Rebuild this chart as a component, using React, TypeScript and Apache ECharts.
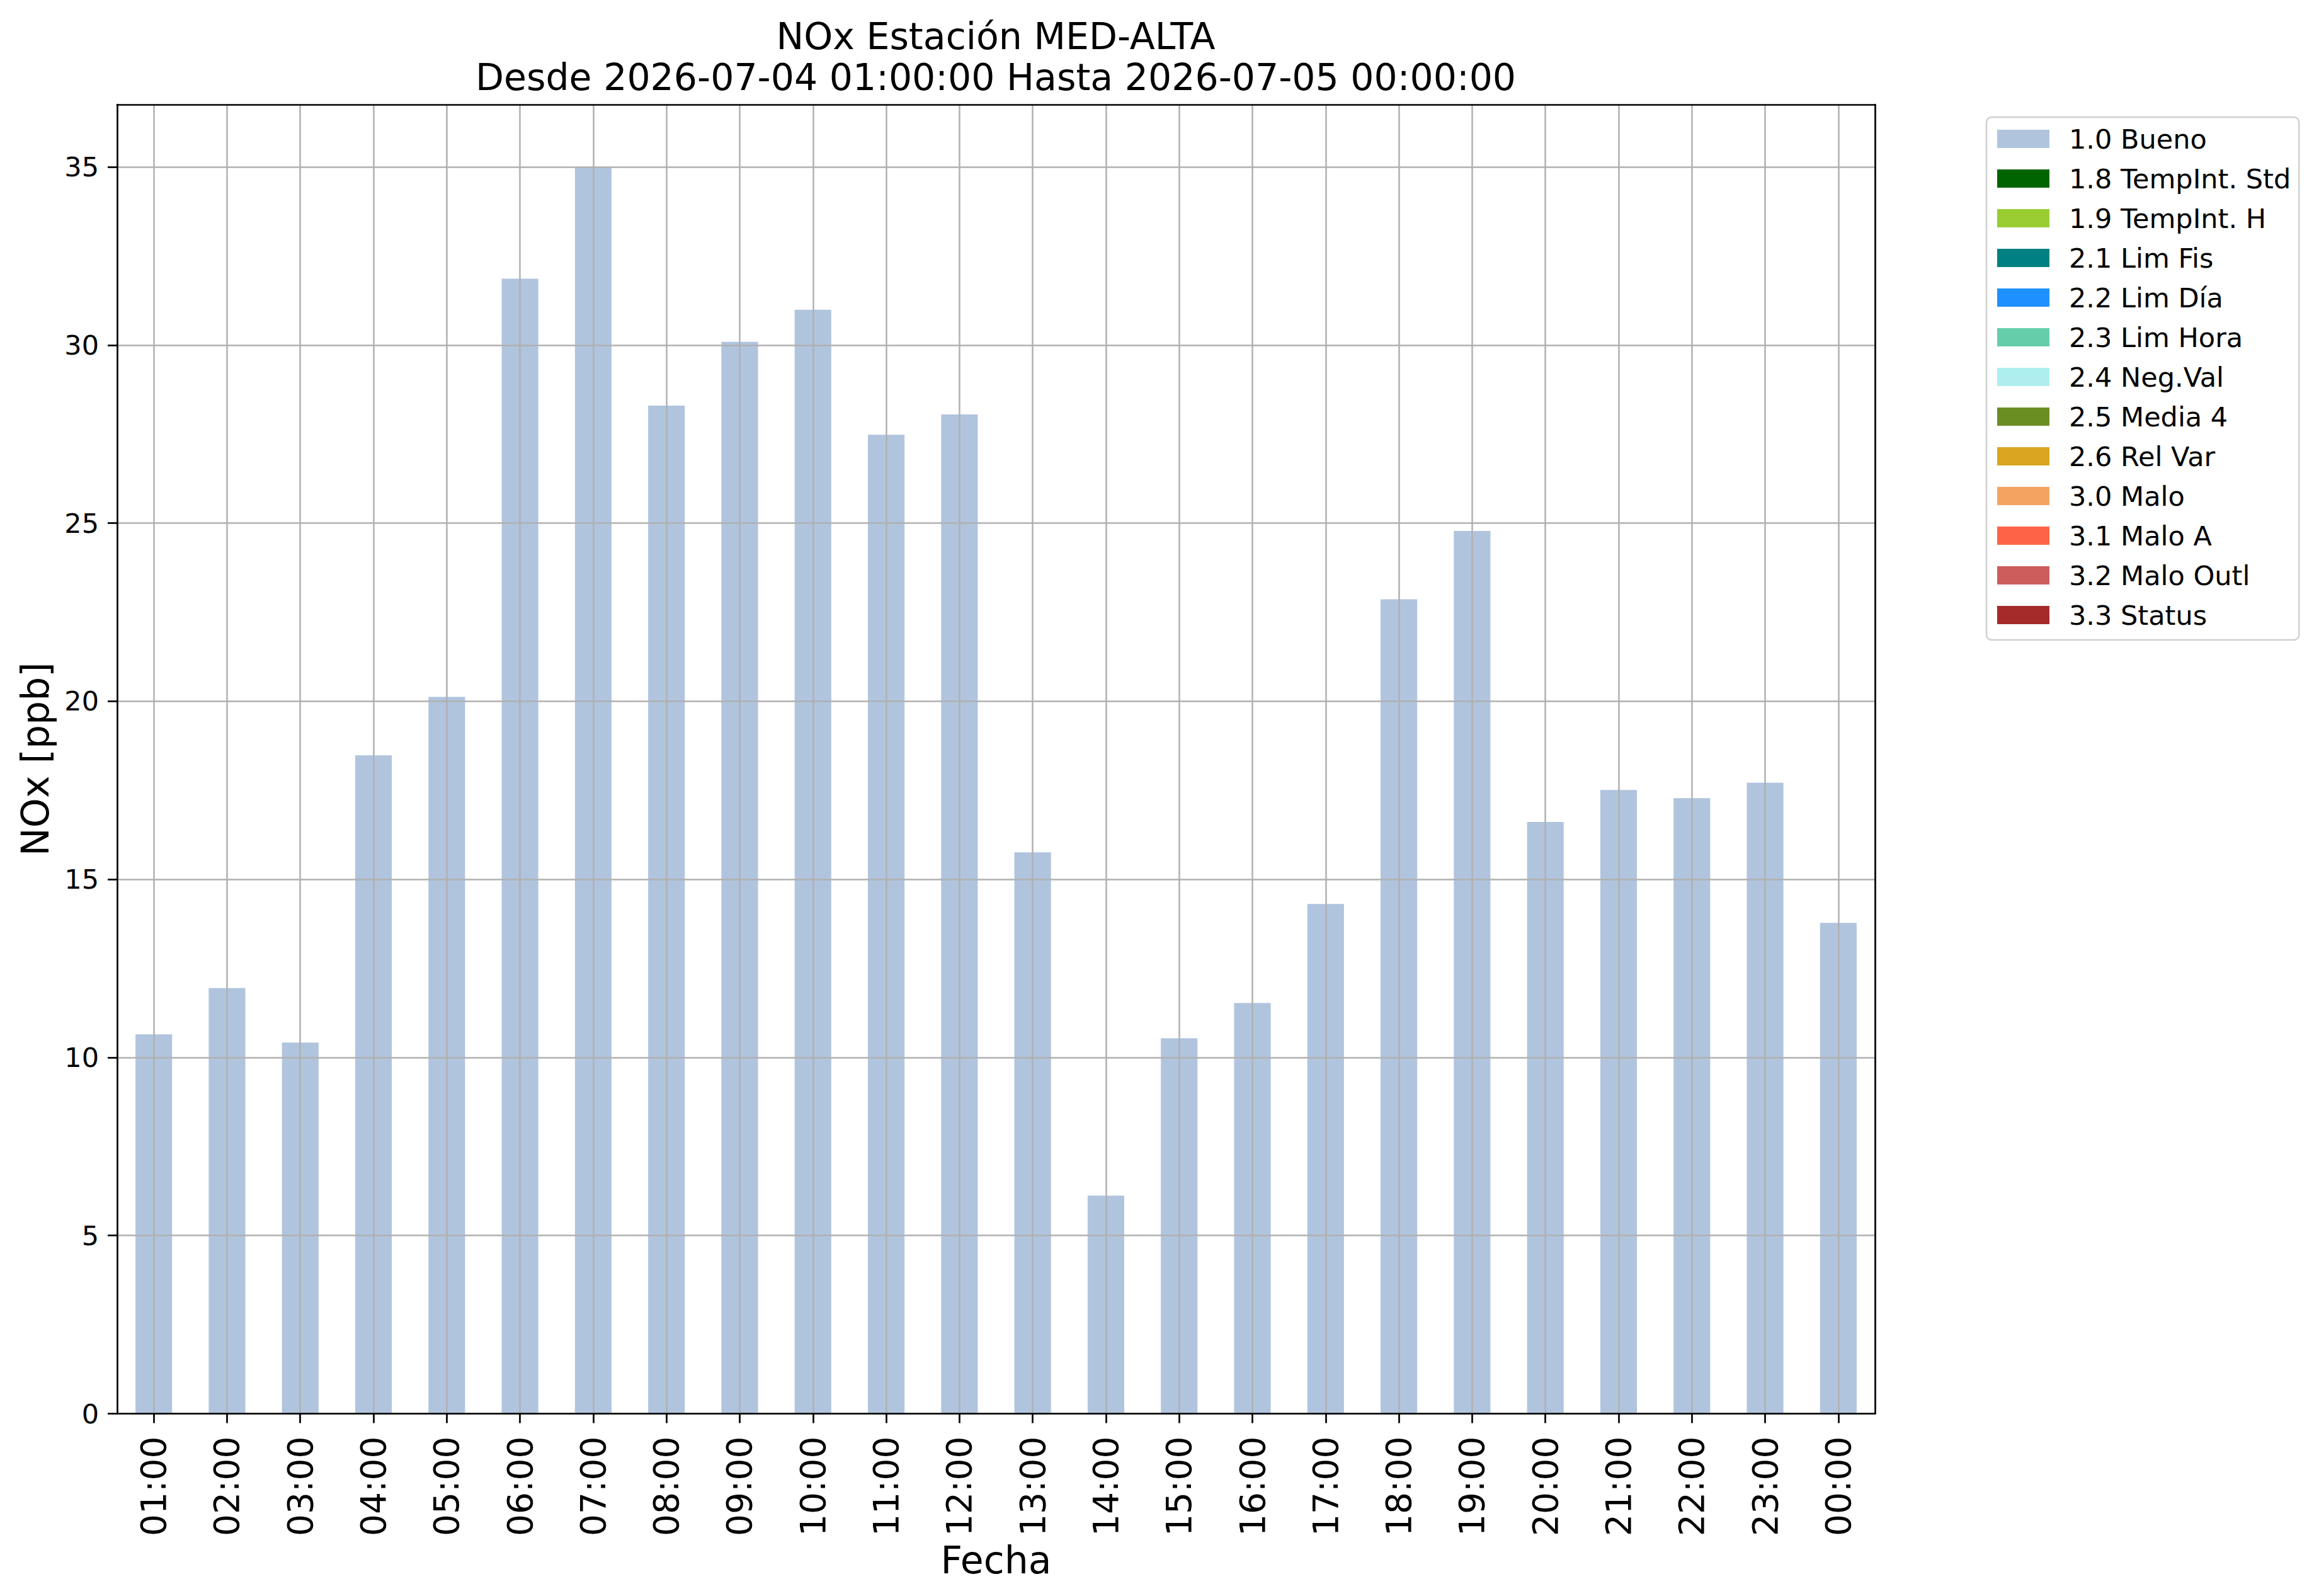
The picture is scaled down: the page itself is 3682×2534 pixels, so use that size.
import React, { useEffect, useRef } from "react";
import * as echarts from "echarts";

const categories = [
  "01:00", "02:00", "03:00", "04:00", "05:00", "06:00", "07:00", "08:00",
  "09:00", "10:00", "11:00", "12:00", "13:00", "14:00", "15:00", "16:00",
  "17:00", "18:00", "19:00", "20:00", "21:00", "22:00", "23:00", "00:00",
];

const buenoValues = [
  10.65, 11.95, 10.42, 18.48, 20.12, 31.86, 35.0, 28.3,
  30.09, 30.99, 27.48, 28.05, 15.76, 6.12, 10.54, 11.53,
  14.31, 22.86, 24.78, 16.61, 17.51, 17.28, 17.71, 13.78,
];

const legendNames = [
  "1.0 Bueno", "1.8 TempInt. Std", "1.9 TempInt. H", "2.1 Lim Fis", "2.2 Lim Día",
  "2.3 Lim Hora", "2.4 Neg.Val", "2.5 Media 4", "2.6 Rel Var", "3.0 Malo",
  "3.1 Malo A", "3.2 Malo Outl", "3.3 Status",
];

const legendColors = [
  "#b0c4de", "#006400", "#9acd32", "#008080", "#1e90ff",
  "#66cdaa", "#afeeee", "#6b8e23", "#daa520", "#f4a460",
  "#ff6347", "#cd5c5c", "#a52a2a",
];

const yTicks = [0, 5, 10, 15, 20, 25, 30, 35];

const FONT = "DejaVu Sans";

export default function App() {
  const ref = useRef<HTMLDivElement>(null);

  useEffect(() => {
    if (!ref.current) return;
    const chart = echarts.init(ref.current, undefined, { renderer: "svg" });

    const series: any[] = legendNames.map((name, i) => ({
      name,
      type: "bar",
      stack: "quality",
      barWidth: "50%",
      data: i === 0 ? buenoValues : [],
      itemStyle: { color: legendColors[i] },
      z: 2,
    }));

    const option: any = {
      animation: false,
      backgroundColor: "#ffffff",
      textStyle: { fontFamily: FONT },
      title: {
        text: "NOx Estación MED-ALTA\nDesde 2026-07-04 01:00:00 Hasta 2026-07-05 00:00:00",
        left: 1581,
        top: 25,
        textAlign: "center",
        padding: 0,
        textStyle: {
          fontFamily: FONT,
          fontSize: 58.5,
          fontWeight: "normal",
          color: "#000",
          lineHeight: 65,
        },
      },
      legend: {
        orient: "vertical",
        left: 3154,
        top: 186,
        padding: [13, 13, 18, 17],
        itemWidth: 83,
        itemHeight: 29,
        itemGap: 20,
        icon: "rect",
        selectedMode: false,
        borderColor: "#d0d0d0",
        borderWidth: 2.5,
        borderRadius: 8,
        backgroundColor: "#ffffff",
        data: legendNames,
        textStyle: {
          fontFamily: FONT,
          fontSize: 43,
          color: "#000",
          padding: [0, 0, 0, 26],
        },
      },
      grid: {
        left: 186,
        top: 166,
        right: 705,
        bottom: 289.5,
        containLabel: false,
      },
      xAxis: [
        {
          type: "category",
          data: categories,
          boundaryGap: true,
          z: 5,
          name: "Fecha",
          nameLocation: "middle",
          nameGap: 188,
          nameTextStyle: { fontFamily: FONT, fontSize: 60, color: "#000" },
          axisLine: { show: true, lineStyle: { color: "#000", width: 2.7 } },
          axisTick: {
            show: true,
            alignWithLabel: true,
            length: 15,
            lineStyle: { color: "#000", width: 2.7 },
          },
          axisLabel: {
            interval: 0,
            rotate: 90,
            margin: 36,
            fontFamily: FONT,
            fontSize: 55,
            color: "#000",
          },
          splitLine: {
            show: true,
            alignWithLabel: true,
            interval: 0,
            lineStyle: { color: "#b0b0b0", width: 2.5 },
          },
        },
        {
          type: "category",
          data: categories,
          position: "top",
          z: 6,
          axisLine: { show: true, onZero: false, lineStyle: { color: "#000", width: 2.7 } },
          axisTick: { show: false },
          axisLabel: { show: false },
          splitLine: { show: false },
        },
      ],
      yAxis: [
        {
          type: "value",
          min: 0,
          max: 36.75,
          interval: 5,
          z: 5,
          name: "NOx [ppb]",
          nameLocation: "middle",
          nameGap: 100,
          nameTextStyle: { fontFamily: FONT, fontSize: 60, color: "#000" },
          axisLine: { show: true, lineStyle: { color: "#000", width: 2.7 } },
          axisTick: {
            show: true,
            length: 15,
            customValues: yTicks,
            lineStyle: { color: "#000", width: 2.7 },
          },
          axisLabel: {
            margin: 29,
            customValues: yTicks,
            fontFamily: FONT,
            fontSize: 43,
            color: "#000",
          },
          splitLine: { show: true, lineStyle: { color: "#b0b0b0", width: 2.5 } },
        },
        {
          type: "value",
          min: 0,
          max: 36.75,
          interval: 5,
          position: "right",
          z: 6,
          axisLine: { show: true, onZero: false, lineStyle: { color: "#000", width: 2.7 } },
          axisTick: { show: false },
          axisLabel: { show: false },
          splitLine: { show: false },
        },
      ],
      series,
    };

    chart.setOption(option);
    return () => chart.dispose();
  }, []);

  return (
    <div
      ref={ref}
      style={{ position: "fixed", left: 0, top: 0, width: 3682, height: 2534 }}
    />
  );
}
